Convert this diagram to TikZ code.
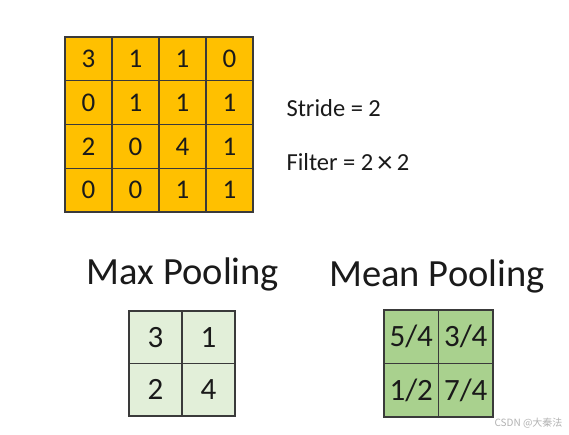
\documentclass[tikz,border=0pt]{standalone}
\usepackage{fontspec}
\setmainfont{Carlito}
\newfontfamily\cjkfont{Noto Sans CJK SC}
\definecolor{gold}{HTML}{FFC000}
\definecolor{palegreen}{HTML}{E2EFD9}
\definecolor{midgreen}{HTML}{A9D18E}
\definecolor{edge}{HTML}{3A3A3A}
\definecolor{ink}{HTML}{1A1A1A}
\tikzset{
  bigcell/.style={draw=edge, line width=1.2pt, fill=gold, minimum width=47pt, minimum height=43.75pt, inner sep=0pt, text=ink, font=\fontsize{27}{27}\selectfont},
  maxcell/.style={draw=edge, line width=1.2pt, fill=palegreen, minimum width=53pt, minimum height=52.5pt, inner sep=0pt, text=ink, font=\fontsize{31}{31}\selectfont},
  meancell/.style={draw=edge, line width=1.2pt, fill=midgreen, minimum width=54.5pt, minimum height=53.5pt, inner sep=0pt, text=ink, font=\fontsize{31}{31}\selectfont},
  param/.style={anchor=west, text=ink, font=\fontsize{24.5}{24.5}\selectfont},
  heading/.style={text=ink, font=\fontsize{38.5}{38.5}\selectfont},
}
\begin{document}
\begin{tikzpicture}[x=1pt,y=-1pt]
\useasboundingbox[fill=white] (0,0) rectangle (569,435);
% 4x4 input matrix
\foreach \r/\a/\b/\c/\d in {0/3/1/1/0, 1/0/1/1/1, 2/2/0/4/1, 3/0/0/1/1}{
  \node[bigcell] (m\r0) at ({65+23.5}, {37+21.875+43.75*\r}) {\a};
  \node[bigcell] (m\r1) at ({65+23.5+47}, {37+21.875+43.75*\r}) {\b};
  \node[bigcell] (m\r2) at ({65+23.5+94}, {37+21.875+43.75*\r}) {\c};
  \node[bigcell] (m\r3) at ({65+23.5+141}, {37+21.875+43.75*\r}) {\d};
}
\node[param] (stride) at (283,108) {Stride = 2};
\node[param] (filter) at (283,163) {Filter = 2\,\raisebox{-0.06em}{\scalebox{1.25}{×}}\,2};
% Max pooling
\node[heading] (maxh) at (183,274) {Max Pooling};
\node[maxcell] (x00) at (155.5,337.25) {3};
\node[maxcell] (x01) at (208.5,337.25) {1};
\node[maxcell] (x10) at (155.5,389.75) {2};
\node[maxcell] (x11) at (208.5,389.75) {4};
% Mean pooling
\node[heading] (meanh) at (437,276) {Mean Pooling};
\node[meancell] (y00) at (411.25,336.75) {5/4};
\node[meancell] (y01) at (465.75,336.75) {3/4};
\node[meancell] (y10) at (411.25,390.25) {1/2};
\node[meancell] (y11) at (465.75,390.25) {7/4};
% watermark
\node[anchor=east, text=black!30, font=\cjkfont\fontsize{10}{10}\selectfont] (wm) at (566,423) {CSDN @大秦法};
\end{tikzpicture}
\end{document}
